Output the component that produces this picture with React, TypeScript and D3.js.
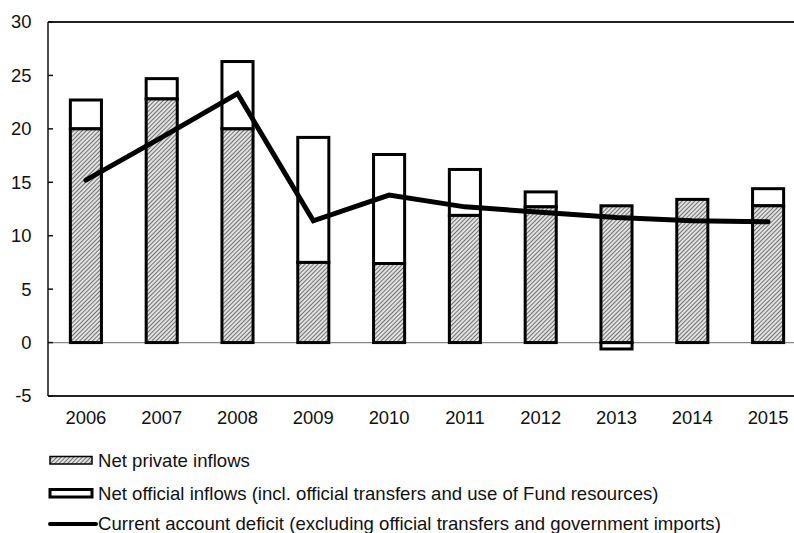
import React from "react";
import * as d3 from "d3";

const years = ["2006", "2007", "2008", "2009", "2010", "2011", "2012", "2013", "2014", "2015"];
const privateInflows = [20.0, 22.8, 20.0, 7.5, 7.4, 11.9, 12.7, 12.8, 13.4, 12.8];
const officialInflows = [2.7, 1.9, 6.3, 11.7, 10.2, 4.3, 1.4, -0.6, 0.0, 1.6];
const currentAccountDeficit = [15.2, 19.2, 23.3, 11.4, 13.8, 12.7, 12.2, 11.7, 11.4, 11.3];
const yTicks = [-5, 0, 5, 10, 15, 20, 25, 30];
const legendLabels = [
  "Net private inflows",
  "Net official inflows (incl. official transfers and use of Fund resources)",
  "Current account deficit (excluding official transfers and government imports)",
];

export default function App() {
  const W = 794;
  const H = 533;
  const left = 48;
  const right = 806;
  const top = 22;
  const bottom = 396;
  const x = d3.scaleBand<string>().domain(years).range([left, right]).paddingInner(0.59).paddingOuter(0.295);
  const y = d3.scaleLinear().domain([-5, 30]).range([bottom, top]);
  const bw = x.bandwidth();
  const font = "'Liberation Sans', Arial, sans-serif";
  const line = d3
    .line<number>()
    .x((_, i) => (x(years[i]) as number) + bw / 2)
    .y((d) => y(d));
  const legendX = 98;
  const legendSize = 18.6;

  return (
    <svg width={W} height={H} style={{ position: "absolute", left: 0, top: 0 }} fontFamily={font}>
      <defs>
        <pattern id="hatch" patternUnits="userSpaceOnUse" width="3" height="3" patternTransform="rotate(45)">
          <rect width="3" height="3" fill="#e2e2e2" />
          <line x1="0" y1="0" x2="0" y2="3" stroke="#333" strokeWidth="1.3" />
        </pattern>
      </defs>
      <rect width={W} height={H} fill="#fff" />
      <line x1={left} x2={W} y1={top} y2={top} stroke="#222" strokeWidth={2} />
      <line x1={left} x2={W} y1={bottom} y2={bottom} stroke="#222" strokeWidth={2} />
      <line x1={left} x2={W} y1={y(0)} y2={y(0)} stroke="#888" strokeWidth={1.2} />
      <line x1={left} x2={left} y1={top} y2={bottom} stroke="#111" strokeWidth={1.5} />
      {yTicks.map((t) => (
        <g key={t}>
          <line x1={left} x2={left + 5} y1={y(t)} y2={y(t)} stroke="#111" strokeWidth={1.5} />
          <text x={31.5} y={y(t)} dy="0.35em" textAnchor="end" fontSize={18.4} fill="#111">
            {t}
          </text>
        </g>
      ))}
      {years.map((yr, i) => {
        const x0 = x(yr) as number;
        const p = privateInflows[i];
        const o = officialInflows[i];
        const oy0 = o >= 0 ? p : 0;
        const oy1 = o >= 0 ? p + o : o;
        return (
          <g key={yr}>
            {o !== 0 && (
              <rect
                x={x0}
                y={y(Math.max(oy0, oy1))}
                width={bw}
                height={Math.abs(y(oy0) - y(oy1))}
                fill="#fff"
                stroke="#000"
                strokeWidth={3}
              />
            )}
            <rect
              x={x0}
              y={y(p)}
              width={bw}
              height={y(0) - y(p)}
              fill="url(#hatch)"
              stroke="#000"
              strokeWidth={3}
            />
            <text x={x0 + bw / 2} y={418} dy="0.35em" textAnchor="middle" fontSize={18.4} fill="#111">
              {yr}
            </text>
          </g>
        );
      })}
      <path d={line(currentAccountDeficit) || ""} fill="none" stroke="#000" strokeWidth={5} strokeLinejoin="miter" strokeLinecap="round" />
      <g>
        <rect x={50} y={456.5} width={42} height={7.5} fill="url(#hatch)" stroke="#000" strokeWidth={1.5} />
        <text x={legendX} y={460.3} dy="0.35em" fontSize={legendSize} fill="#111">{legendLabels[0]}</text>
        <rect x={50} y={489.5} width={42} height={7.5} fill="#fff" stroke="#000" strokeWidth={3} />
        <text x={legendX} y={493.3} dy="0.35em" fontSize={legendSize} fill="#111">{legendLabels[1]}</text>
        <line x1={50} x2={96} y1={524} y2={524} stroke="#000" strokeWidth={4} strokeLinecap="round" />
        <text x={legendX} y={523.5} dy="0.35em" fontSize={legendSize} fill="#111">{legendLabels[2]}</text>
      </g>
    </svg>
  );
}
